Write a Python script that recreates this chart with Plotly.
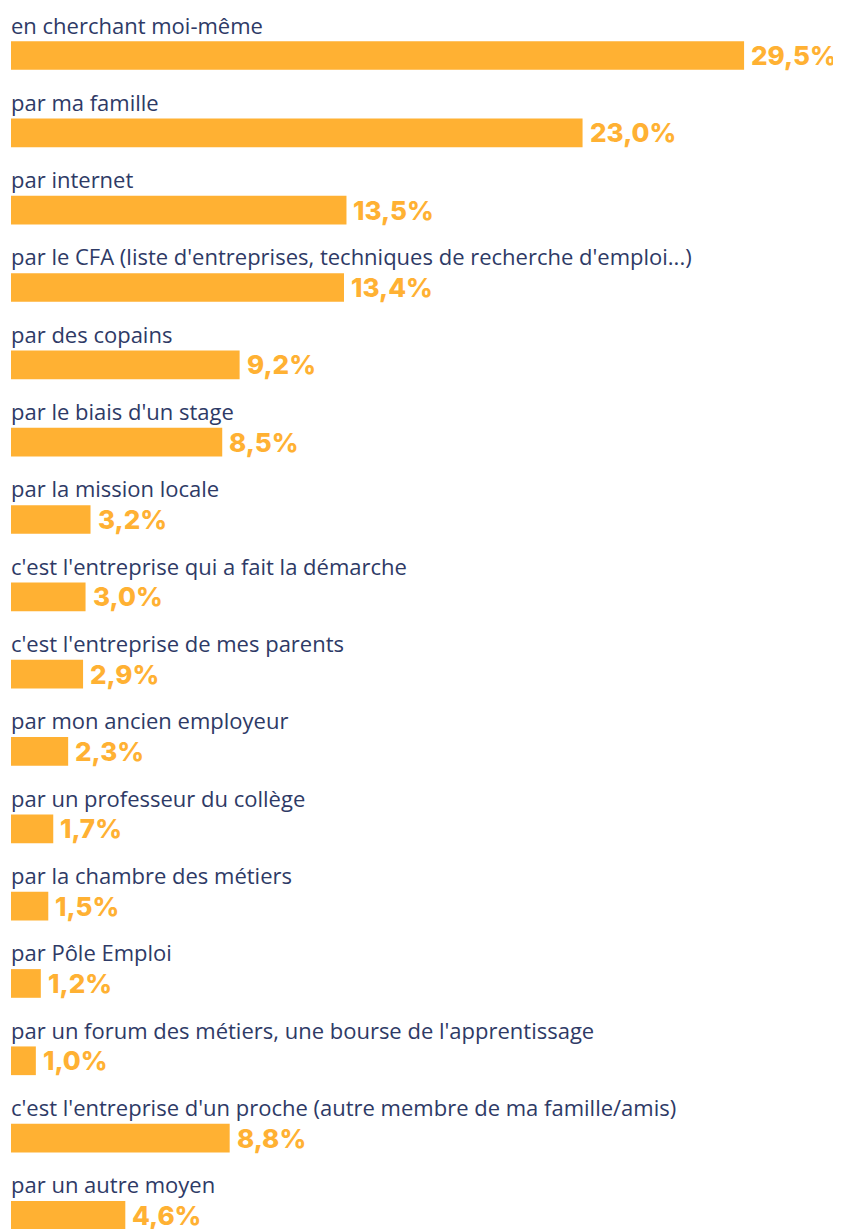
import plotly.graph_objects as go

categories = [
    "en cherchant moi-même",
    "par ma famille",
    "par internet",
    "par le CFA (liste d'entreprises, techniques de recherche d'emploi...)",
    "par des copains",
    "par le biais d'un stage",
    "par la mission locale",
    "c'est l'entreprise qui a fait la démarche",
    "c'est l'entreprise de mes parents",
    "par mon ancien employeur",
    "par un professeur du collège",
    "par la chambre des métiers",
    "par Pôle Emploi",
    "par un forum des métiers, une bourse de l'apprentissage",
    "c'est l'entreprise d'un proche (autre membre de ma famille/amis)",
    "par un autre moyen",
]
values = [29.5, 23.0, 13.5, 13.4, 9.2, 8.5, 3.2, 3.0, 2.9, 2.3, 1.7, 1.5, 1.2, 1.0, 8.8, 4.6]

BAR = "#FFB133"
LABEL = "#2E3A66"

rows = list(range(len(categories)))
fig = go.Figure(go.Bar(
    x=values, y=rows, orientation="h", width=0.371,
    marker=dict(color=BAR, line=dict(width=0)),
    hoverinfo="skip",
))

for r, c, v in zip(rows, categories, values):
    fig.add_annotation(x=0, y=r, text=c, showarrow=False, xanchor="left", yanchor="middle",
                       xshift=-2, yshift=31, font=dict(family="Open Sans", size=22, color=LABEL))
    fig.add_annotation(x=v, y=r, text=f"{v:.1f}%".replace(".", ","), showarrow=False,
                       xanchor="left", yanchor="middle", xshift=5,
                       font=dict(family="Inter", size=26, color=BAR, weight=800))

fig.update_layout(
    width=833, height=1240,
    margin=dict(l=3, r=0, t=0, b=0),
    paper_bgcolor="white", plot_bgcolor="white",
    showlegend=False,
    xaxis=dict(range=[0, 33.4], visible=False, fixedrange=True),
    yaxis=dict(range=[15.421, -0.6143], visible=False, fixedrange=True),
)
fig.write_html("out.html")
